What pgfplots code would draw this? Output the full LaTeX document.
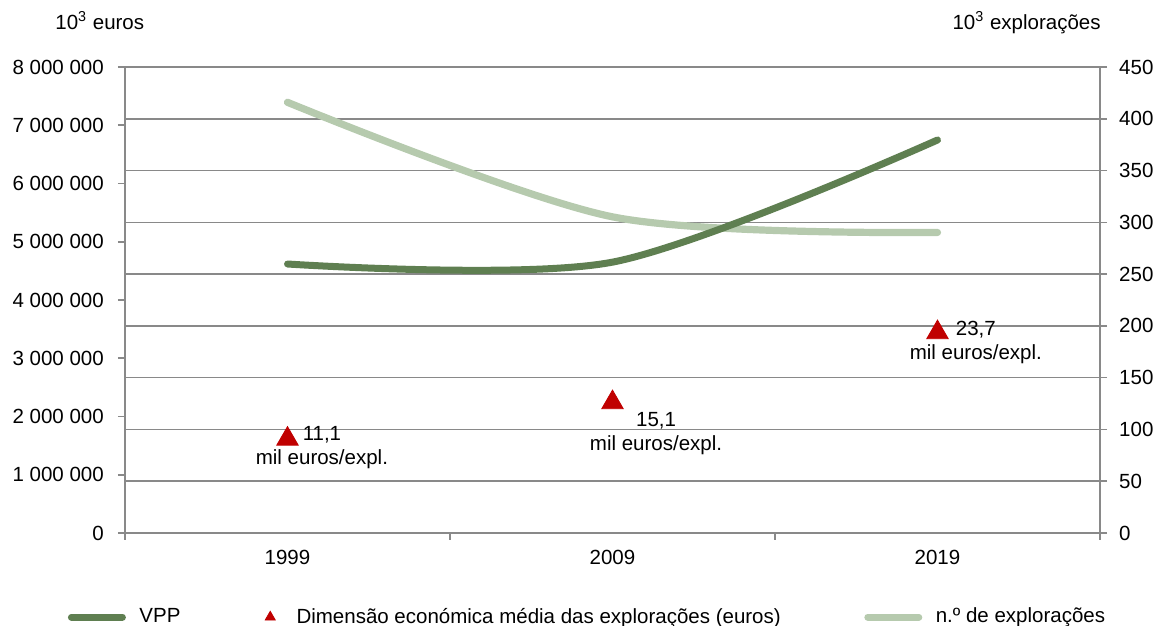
\documentclass[border=0pt]{standalone}
\usepackage{fontspec}
\setmainfont{Liberation Sans}
\usepackage{pgfplots}
\pgfplotsset{compat=1.18}
\definecolor{vpp}{HTML}{5F7F51}
\definecolor{expl}{HTML}{B6CAAE}
\definecolor{tri}{HTML}{C00000}
\definecolor{grd}{HTML}{898989}

\pgfplotsset{
  base/.style={
    width=487.5pt, height=233pt, scale only axis,
    xmin=-0.5, xmax=2.5,
    axis line style={grd, line width=0.8pt},
    tick style={grd, line width=0.8pt},
    tick align=outside,
    major tick length=3.5pt,
    /pgf/number format/assume math mode=true,
    clip=false,
  },
  lineimg/.style={legend image code/.code={\draw[##1, line cap=round] (0pt,0pt) -- (25.5pt,0pt);}},
  triimg/.style={legend image code/.code={\path[draw=none, fill=none] (0pt,-1pt) rectangle (12.8pt,1pt); \draw[##1] plot coordinates {(6.4pt,0pt)};}},
}

\begin{document}
\fontsize{10.25}{12}\selectfont
\begin{tikzpicture}
% right axis first, so its grid lies under the VPP line
\begin{axis}[base,
    ymin=0, ymax=450,
    ytick={0,50,100,150,200,250,300,350,400,450},
    ytick pos=right,
    yticklabel style={xshift=2.5pt},
    xtick=\empty,
    ymajorgrids=true,
    grid style={grd, line width=0.8pt},
  ]
  \addplot[expl, line width=3.6pt, line cap=round, smooth] coordinates {
    (0,415.9) (1,305.3) (2,290.2)
  };
\end{axis}

\begin{axis}[base, name=left,
    ymin=0, ymax=8000000,
    scaled y ticks=false,
    ytick={0,1000000,2000000,3000000,4000000,5000000,6000000,7000000,8000000},
    yticklabels={0,1 000 000,2 000 000,3 000 000,4 000 000,5 000 000,6 000 000,7 000 000,8 000 000},
    ytick pos=left,
    yticklabel style={xshift=-3.5pt},
    xtick={-0.5,0.5,1.5,2.5},
    xticklabels={,,,},
    xtick pos=bottom,
    xticklabel style={yshift=-5pt},
    extra x ticks={0,1,2},
    extra x tick labels={1999,2009,2019},
    extra x tick style={major tick length=0pt},
    legend columns=-1,
    legend style={draw=none, fill=none, at={(axis description cs:-0.0651,-0.1805)}, anchor=west,
      /tikz/every odd column/.append style={column sep=4.75pt},
      /tikz/column 2/.style={column sep=36.5pt},
      /tikz/column 4/.style={column sep=39.75pt}},
  ]
  \addplot[vpp, line width=3.5pt, line cap=round, smooth, forget plot] coordinates {
    (0,4618000) (1,4650000) (2,6747000)
  };
  \addplot[only marks, mark=triangle*, mark size=6.2pt, tri, forget plot] coordinates {
    (0,1614000) (1,2240000) (2,3442000)
  };

  \addlegendimage{vpp, line width=3.5pt, lineimg}
  \addlegendentry{VPP}
  \addlegendimage{only marks, mark=triangle*, mark size=2.9pt, tri, triimg}
  \addlegendentry{Dimensão económica média das explorações (euros)}
  \addlegendimage{expl, line width=3.5pt, lineimg}
  \addlegendentry{n.º de explorações}

  \node[align=center, inner sep=0pt] at (axis cs:0.106,1468000) {11,1\\mil euros/expl.};
  \node[align=center, inner sep=0pt] at (axis cs:1.134,1700000) {15,1\\mil euros/expl.};
  \node[align=center, inner sep=0pt] at (axis cs:2.118,3270000) {23,7\\mil euros/expl.};

  \node[anchor=base west, inner sep=0pt] at ([xshift=-35pt, yshift=19pt]rel axis cs:0,1) {10\textsuperscript{3} euros};
  \node[anchor=base east, inner sep=0pt] at ([xshift=0.5pt, yshift=19pt]rel axis cs:1,1) {10\textsuperscript{3} explorações};
\end{axis}
\pgfresetboundingbox
\path[use as bounding box] ([xshift=-62.5pt, yshift=-46.5pt]left.south west) rectangle ++(579pt,313pt);
\end{tikzpicture}
\end{document}
